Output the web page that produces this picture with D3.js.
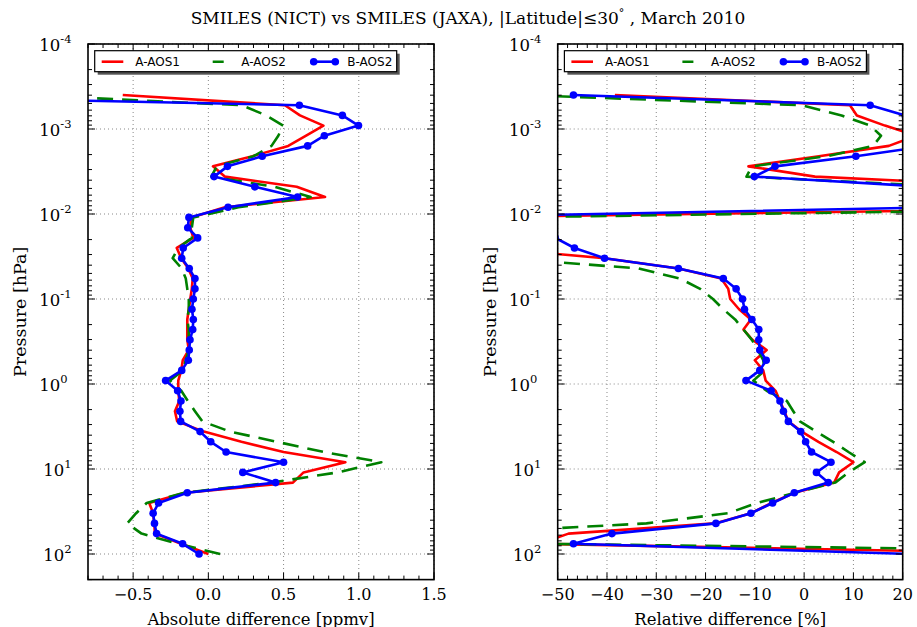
<!DOCTYPE html>
<html><head><meta charset="utf-8">
<script src="https://cdn.jsdelivr.net/npm/d3@7"></script>
<style>body{margin:0;background:#fff;} svg{display:block;}</style>
</head><body><svg id="c" width="917" height="627"></svg>
<script>
// ---------------- DATA ----------------
const seriesNames = ["A-AOS1", "A-AOS2", "B-AOS2"];
const seriesColors = ["#ff0000", "#008000", "#0000ff"];

// pressure levels [hPa], bottom (100 hPa) to top
const pressure = [100, 75.86, 57.54, 43.65, 33.11, 25.12, 19.05, 14.45, 10.96, 8.318,
  6.310, 4.786, 3.631, 2.754, 2.089, 1.585, 1.202, 0.912, 0.692, 0.525,
  0.398, 0.302, 0.229, 0.174, 0.132, 0.1, 0.0759, 0.0575, 0.0437, 0.0331,
  0.0251, 0.0191, 0.0145, 0.01096, 0.00832, 0.00631, 0.00479, 0.00363, 0.00275, 0.00209,
  0.00158, 0.00120, 0.000912, 0.000692, 0.000525, 0.000398];

// absolute difference [ppmv]
const absAOS1 = [0.0, -0.181, -0.355, -0.36, -0.367, -0.393, -0.155, 0.562, 0.633, 0.911,
  0.5, 0.22, -0.03, -0.207, -0.222, -0.193, -0.2, -0.2, -0.18, -0.17,
  -0.13, -0.14, -0.14, -0.14, -0.13, -0.12, -0.11, -0.104, -0.133, -0.18,
  -0.21, -0.1, -0.12, -0.113, 0.11, 0.776, 0.587, 0.109, 0.031, 0.293,
  0.531, 0.65, 0.765, 0.609, 0.509, -0.569];
const absAOS2 = [0.078, -0.2, -0.444, -0.54, -0.48, -0.41, -0.16, 0.42, 0.86, 1.15,
  0.767, 0.456, 0.145, -0.04, -0.089, -0.136, -0.18, -0.255, -0.17, -0.15,
  -0.13, -0.13, -0.13, -0.14, -0.13, -0.13, -0.14, -0.15, -0.177, -0.237,
  -0.2, -0.11, -0.11, -0.1, 0.2, 0.68, 0.44, 0.02, 0.056, 0.3,
  0.42, 0.465, 0.498, 0.385, 0.22, -1.22];
const absBAOS2 = [-0.062, -0.171, -0.344, -0.358, -0.367, -0.331, -0.14, 0.447, 0.229, 0.5,
  0.118, 0.016, -0.055, -0.184, -0.189, -0.182, -0.204, -0.284, -0.177, -0.133,
  -0.127, -0.122, -0.104, -0.1, -0.109, -0.1, -0.089, -0.089, -0.127, -0.177,
  -0.167, -0.071, -0.137, -0.129, 0.131, 0.593, 0.309, 0.038, 0.127, 0.358,
  0.66, 0.771, 0.998, 0.891, 0.605, -2.6];

// relative difference [%]
const relAOS1 = [54.8, -53.9, -47.8, -18.1, -10.8, -6.6, -2.0, 6.1, 7.1, 10.0,
  6.6, 2.9, -0.5, -3.2, -4.0, -4.9, -5.8, -7.8, -8.3, -10.0,
  -7.6, -10.5, -12.3, -10.8, -13.2, -15.0, -15.4, -16.8, -25.5, -40.5,
  -63.7, -70, -75, -70, 72.9, 80, 46.7, 2.2, -11.3, 3.0,
  17.2, 22.8, 16.4, 10.7, 9.3, -38.4];
const relAOS2 = [110, -52, -70.9, -32, -15.4, -9.6, -1.8, 6.3, 9.0, 12.3,
  9.0, 5.9, 2.5, -0.85, -2.2, -3.5, -7.6, -10.3, -8.0, -8.3,
  -9.4, -10.6, -12.3, -14.0, -16.4, -18.5, -21.1, -25.2, -33.6, -60.9,
  -70, -70, -70, -60, 82.9, 90, 30, -11.7, -10.6, 4.6,
  14.0, 15.6, 13.4, 7.6, -0.5, -57.2];
const relBAOS2 = [22, -46.8, -39.0, -17.9, -10.8, -6.4, -2.0, 4.9, 2.5, 5.45,
  1.5, 0.3, -0.7, -3.2, -4.2, -4.9, -6.7, -11.8, -9.0, -7.7,
  -9.0, -9.2, -9.2, -10.6, -12.1, -12.5, -13.8, -16.4, -25.5, -40.5,
  -46.6, -50.5, -70, -78.3, 28.6, 80, 25.0, -10.1, -5.9, 10.5,
  25.3, 30, 32, 20.5, 13.4, -46.8];

const yTickExps = [-4, -3, -2, -1, 0, 1, 2];
const absTicks = [-0.5, 0, 0.5, 1.0, 1.5];
const relTicks = [-50, -40, -30, -20, -10, 0, 10, 20];
const absMinor = d3.range(-8, 16).map(i => i / 10);
const relMinor = d3.range(-25, 11).map(i => i * 2);
const xLabels = ["Absolute difference [ppmv]", "Relative difference [%]"];
const yLabel = "Pressure [hPa]";

// ---------------- DRAW ----------------
const svg = d3.select("#c");
const SERIF = "'DejaVu Serif', serif";
const SANS = "'DejaVu Sans', sans-serif";
const Y0 = 44, Y1 = 579.6;
const y = d3.scaleLog().domain([1e-4, 200]).range([Y0, Y1]);

// title
const t = svg.append("text").attr("x", 468).attr("y", 24).attr("text-anchor", "middle")
  .attr("font-family", SERIF).attr("font-size", 17).attr("fill", "#000");
t.append("tspan").text("SMILES (NICT) vs SMILES (JAXA), |Latitude|\u226430");
t.append("tspan").attr("dy", -7).attr("font-size", 11).text("\u00b0");
t.append("tspan").attr("dy", 7).text(" , March 2010");

function panel(id, x0, x1, domain, ticks, minor, fmt, xlabel, data) {
  const x = d3.scaleLinear().domain(domain).range([x0, x1]);
  const g = svg.append("g");
  const clipId = "clip" + id;
  svg.append("defs").append("clipPath").attr("id", clipId)
    .append("rect").attr("x", x0).attr("y", Y0).attr("width", x1 - x0).attr("height", Y1 - Y0);

  // grid
  const grid = g.append("g").attr("stroke", "#888").attr("stroke-width", 1).attr("stroke-dasharray", "1,3");
  ticks.forEach(v => grid.append("line").attr("x1", x(v)).attr("x2", x(v)).attr("y1", Y0).attr("y2", Y1));
  yTickExps.forEach(e => grid.append("line").attr("x1", x0).attr("x2", x1).attr("y1", y(Math.pow(10, e))).attr("y2", y(Math.pow(10, e))));

  // series
  const line = d3.line().x(d => x(d.v)).y(d => y(d.p));
  const plot = g.append("g").attr("clip-path", `url(#${clipId})`);
  data.forEach((vals, si) => {
    const pts = vals.map((v, i) => ({ v, p: pressure[i] }));
    const path = plot.append("path").datum(pts).attr("d", line).attr("fill", "none")
      .attr("stroke", seriesColors[si]).attr("stroke-width", 2.6).attr("stroke-linejoin", "round");
    if (si === 1) path.attr("stroke-dasharray", "16,9");
    if (si === 2) {
      plot.append("g").selectAll("circle").data(pts).join("circle")
        .attr("cx", d => x(d.v)).attr("cy", d => y(d.p)).attr("r", 3.8).attr("fill", seriesColors[si]);
    }
  });

  // ticks (inside, all four sides)
  const tk = g.append("g").attr("stroke", "#000").attr("stroke-width", 1);
  ticks.forEach(v => {
    tk.append("line").attr("x1", x(v)).attr("x2", x(v)).attr("y1", Y1).attr("y2", Y1 - 7);
    tk.append("line").attr("x1", x(v)).attr("x2", x(v)).attr("y1", Y0).attr("y2", Y0 + 7);
  });
  minor.forEach(v => {
    if (ticks.some(t => Math.abs(t - v) < 1e-9)) return;
    if (v < domain[0] - 1e-9 || v > domain[1] + 1e-9) return;
    tk.append("line").attr("x1", x(v)).attr("x2", x(v)).attr("y1", Y1).attr("y2", Y1 - 4);
    tk.append("line").attr("x1", x(v)).attr("x2", x(v)).attr("y1", Y0).attr("y2", Y0 + 4);
  });
  yTickExps.forEach(e => {
    const yy = y(Math.pow(10, e));
    tk.append("line").attr("x1", x0).attr("x2", x0 + 7).attr("y1", yy).attr("y2", yy);
    tk.append("line").attr("x1", x1).attr("x2", x1 - 7).attr("y1", yy).attr("y2", yy);
    for (let m = 2; m <= 9; m++) {
      const v = m * Math.pow(10, e);
      if (v > 200) continue;
      const ym = y(v);
      tk.append("line").attr("x1", x0).attr("x2", x0 + 4).attr("y1", ym).attr("y2", ym);
      tk.append("line").attr("x1", x1).attr("x2", x1 - 4).attr("y1", ym).attr("y2", ym);
    }
  });

  // frame
  g.append("rect").attr("x", x0).attr("y", Y0).attr("width", x1 - x0).attr("height", Y1 - Y0)
    .attr("fill", "none").attr("stroke", "#000").attr("stroke-width", 1.6);

  // x tick labels
  ticks.forEach(v => {
    g.append("text").attr("x", x(v)).attr("y", Y1 + 20.5).attr("text-anchor", "middle")
      .attr("font-family", SERIF).attr("font-size", 16).text(fmt(v));
  });
  // y tick labels
  yTickExps.forEach(e => {
    const yy = y(Math.pow(10, e));
    const tx = g.append("text").attr("x", x0 - (e > 0 ? 44.7 : 48.7)).attr("y", yy + 7)
      .attr("font-family", SERIF).attr("font-size", 16.5);
    tx.append("tspan").text("10");
    tx.append("tspan").attr("dy", -8).attr("font-size", 11.5).text(String(e));
  });
  // axis labels
  g.append("text").attr("x", (x0 + x1) / 2).attr("y", 624.5).attr("text-anchor", "middle")
    .attr("font-family", SERIF).attr("font-size", 16.5).text(xlabel);
  g.append("text").attr("transform", `translate(${x0 - 62},${(Y0 + Y1) / 2}) rotate(-90)`)
    .attr("text-anchor", "middle").attr("font-family", SERIF).attr("font-size", 17.5).text(yLabel);

  // legend
  const lx = x0 + 6.7, ly = 50.7, lw = 302, lh = 21;
  const lg = g.append("g");
  lg.append("rect").attr("x", lx + 3).attr("y", ly + 3).attr("width", lw).attr("height", lh).attr("fill", "#555");
  lg.append("rect").attr("x", lx).attr("y", ly).attr("width", lw).attr("height", lh)
    .attr("fill", "#fff").attr("stroke", "#000").attr("stroke-width", 1.2);
  seriesNames.forEach((n, si) => {
    const hx = lx + 7 + si * 106, hy = ly + 11;
    const hl = lg.append("line").attr("x1", hx).attr("x2", hx + 21.6).attr("y1", hy).attr("y2", hy)
      .attr("stroke", seriesColors[si]).attr("stroke-width", 2.6);
    if (si === 1) hl.attr("stroke-dasharray", "0,5,11,6");
    if (si === 2) {
      [hx, hx + 21.6].forEach(cx => lg.append("circle").attr("cx", cx).attr("cy", hy).attr("r", 3.8).attr("fill", seriesColors[si]));
    }
    lg.append("text").attr("x", hx + 33.6).attr("y", hy + 4.3).attr("font-family", SANS)
      .attr("font-size", 12).text(n);
  });
}

const fmtAbs = v => d3.format(".1f")(v);
const fmtRel = v => d3.format("d")(v);
panel("L", 88, 434, [-0.8, 1.5], absTicks, absMinor, fmtAbs, xLabels[0], [absAOS1, absAOS2, absBAOS2]);
panel("R", 557.7, 902.7, [-50, 20], relTicks, relMinor, fmtRel, xLabels[1], [relAOS1, relAOS2, relBAOS2]);
</script></body></html>
